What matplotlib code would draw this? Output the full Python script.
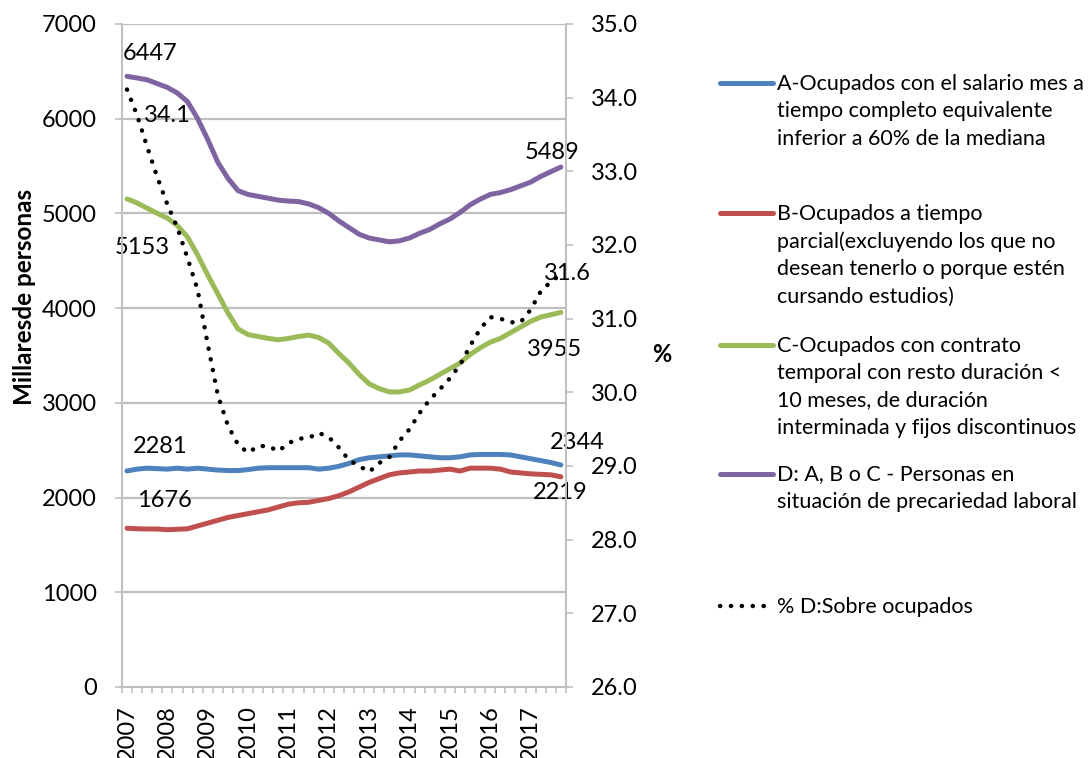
import numpy as np
import matplotlib.pyplot as plt
from matplotlib.lines import Line2D

plt.rcParams['font.family'] = ['Lato', 'DejaVu Sans']

# quarterly series 2007Q1 .. 2017Q4
years = [str(y) for y in range(2007, 2018)]
n_quarters = 44

serie_a = [2281, 2300, 2310, 2305, 2300, 2310, 2300, 2310, 2300, 2290, 2285,
           2285, 2295, 2310, 2315, 2315, 2315, 2315, 2315, 2300, 2310, 2330,
           2360, 2400, 2420, 2430, 2440, 2450, 2450, 2440, 2430, 2420, 2420,
           2430, 2450, 2455, 2455, 2455, 2450, 2430, 2410, 2390, 2370, 2344]
serie_b = [1676, 1670, 1668, 1668, 1660, 1665, 1670, 1700, 1730, 1760, 1790,
           1810, 1830, 1850, 1870, 1900, 1930, 1945, 1950, 1970, 1990, 2020,
           2060, 2110, 2160, 2200, 2240, 2260, 2270, 2280, 2280, 2290, 2300,
           2280, 2310, 2310, 2310, 2300, 2270, 2260, 2250, 2245, 2240, 2219]
serie_c = [5153, 5110, 5055, 5000, 4950, 4870, 4750, 4560, 4350, 4150, 3950,
           3780, 3720, 3700, 3680, 3665, 3680, 3700, 3715, 3690, 3630, 3520,
           3420, 3300, 3200, 3150, 3115, 3115, 3135, 3190, 3240, 3300, 3360,
           3420, 3510, 3580, 3640, 3680, 3740, 3800, 3860, 3905, 3930, 3955]
serie_d = [6447, 6430, 6410, 6370, 6330, 6270, 6180, 6000, 5780, 5540, 5370,
           5240, 5200, 5180, 5160, 5140, 5130, 5125, 5100, 5060, 5000, 4920,
           4850, 4780, 4740, 4720, 4700, 4710, 4740, 4790, 4830, 4890, 4940,
           5010, 5090, 5150, 5200, 5220, 5250, 5290, 5330, 5390, 5440, 5489]
pct_d = [34.11, 33.76, 33.33, 32.92, 32.55, 32.23, 31.82, 31.39, 30.65, 29.96,
         29.55, 29.29, 29.18, 29.27, 29.27, 29.20, 29.31, 29.37, 29.38, 29.45,
         29.39, 29.25, 29.08, 29.00, 28.92, 29.04, 29.12, 29.34, 29.50, 29.72,
         29.90, 30.04, 30.19, 30.37, 30.63, 30.86, 31.02, 31.00, 30.95, 30.95,
         31.12, 31.37, 31.50, 31.6]

legend_labels = [
    "A-Ocupados con el salario mes a\ntiempo completo equivalente\ninferior a 60% de la mediana",
    "B-Ocupados a tiempo\nparcial(excluyendo los que no\ndesean tenerlo o porque estén\ncursando estudios)",
    "C-Ocupados con contrato\ntemporal con resto duración <\n10 meses, de duración\ninterminada y fijos discontinuos",
    "D: A, B o C - Personas en\nsituación de precariedad laboral",
    "% D:Sobre ocupados",
]
colors = ['#4F81BD', '#C0504D', '#9BBB59', '#8064A2']
grid_c = '#BFBFBF'
dots = dict(color='black', lw=3.2, linestyle=(0, (0.05, 2.4)), dash_capstyle='round')

x = np.arange(n_quarters)

fig = plt.figure(figsize=(10.9, 7.58), dpi=100)
ax = fig.add_axes([0.1119, 0.0937, 0.4073, 0.8747])
ax2 = ax.twinx()

for s, c in zip([serie_a, serie_b, serie_c, serie_d], colors):
    ax.plot(x, s, color=c, lw=3.6, solid_capstyle='round', solid_joinstyle='round')
ax2.plot(x, pct_d, **dots)

ax.set_xlim(-0.5, n_quarters - 0.5)
ax.set_ylim(0, 7000)
ax2.set_ylim(26, 35)
ax.set_yticks(np.arange(0, 7001, 1000))
ax2.set_yticks(np.arange(26, 35.01, 1))
ax2.set_yticklabels([f'{v:.1f}' for v in np.arange(26, 35.01, 1)])
ax.yaxis.grid(True, color=grid_c, lw=1.6)
ax.set_axisbelow(True)

ax.set_xticks(np.arange(0, n_quarters, 4))
ax.set_xticklabels(years, rotation=90, va='top')
ax.set_xticks(np.arange(-0.5, n_quarters, 1), minor=True)
ax.tick_params(axis='x', which='major', length=0, pad=13, labelsize=17)
ax.tick_params(axis='x', which='minor', length=4.5, width=1.2, color=grid_c)
ax.tick_params(axis='y', length=5, width=1.2, color=grid_c, labelsize=17, pad=13)
ax2.tick_params(axis='y', length=5, width=1.2, color=grid_c, labelsize=17, pad=13)

for a in (ax, ax2):
    for sp in a.spines.values():
        sp.set_color(grid_c)
        sp.set_linewidth(1.4)
    a.spines['top'].set_visible(False)

fig.text(25 / 1090, 1 - 297 / 758, 'Millaresde personas', rotation=90,
         fontsize=17.5, fontweight='bold', ha='center', va='center')
fig.text(662 / 1090, 1 - 355 / 758, '%', fontsize=17, fontweight='bold',
         ha='center', va='center')

# data labels, offsets in pixels from the first / last point
lab_kw = dict(textcoords='offset pixels', fontsize=17, ha='center',
              va='center', annotation_clip=False)
first, last = 0, n_quarters - 1
ax.annotate(str(serie_d[first]), (first, serie_d[first]), xytext=(23, 23), **lab_kw)
ax.annotate(str(serie_c[first]), (first, serie_c[first]), xytext=(15, -49), **lab_kw)
ax.annotate(str(serie_a[first]), (first, serie_a[first]), xytext=(33, 24), **lab_kw)
ax.annotate(str(serie_b[first]), (first, serie_b[first]), xytext=(37, 28), **lab_kw)
ax.annotate(str(serie_d[last]), (last, serie_d[last]), xytext=(-9, 15), **lab_kw)
ax.annotate(str(serie_c[last]), (last, serie_c[last]), xytext=(-6, -37), **lab_kw)
ax.annotate(str(serie_a[last]), (last, serie_a[last]), xytext=(16, 22), **lab_kw)
ax.annotate(str(serie_b[last]), (last, serie_b[last]), xytext=(-1, -16), **lab_kw)
ax2.annotate(f'{pct_d[first]:.1f}', (first, pct_d[first]), xytext=(40, -26), **lab_kw)
ax2.annotate(f'{pct_d[last]:.1f}', (last, pct_d[last]), xytext=(7, 1), **lab_kw)

# legend drawn by hand to keep the multi-line spacing
leg_y = [83, 213, 345, 474, 606]
styles = [dict(color=c, lw=3.6, solid_capstyle='round') for c in colors]
styles.append(dots)
for yy, lbl, st in zip(leg_y, legend_labels, styles):
    yf = 1 - yy / 758
    fig.add_artist(Line2D([720 / 1090, 773 / 1090], [yf, yf], **st))
    fig.text(777 / 1090, yf + 0.0125, lbl, fontsize=15.5, ha='left', va='top',
             linespacing=1.47)

fig.savefig('out.png', dpi=100)
